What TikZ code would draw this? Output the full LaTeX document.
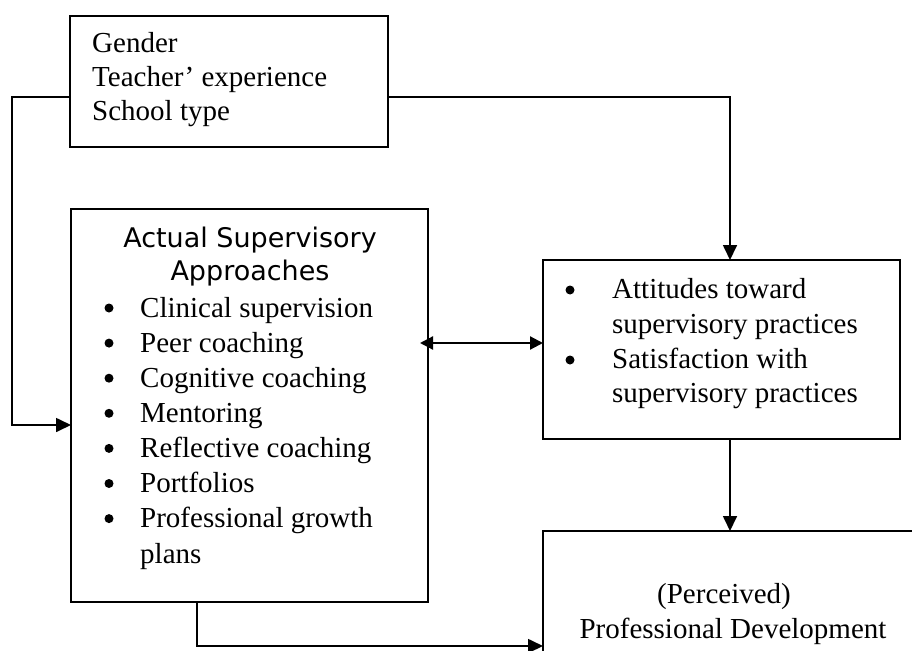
\documentclass[tikz,border=0pt]{standalone}
\usepackage{fontspec}
\setmainfont{Liberation Serif}
\newfontfamily\titlefont{DejaVu Sans}
\usetikzlibrary{arrows.meta,calc}
\begin{document}
\begin{tikzpicture}[x=1pt,y=-1pt,
  box/.style={draw,line width=1.7pt,rectangle,inner sep=0pt,outer sep=0pt},
  txt/.style={anchor=base west,inner sep=0pt,font=\fontsize{29}{35}\selectfont},
  ctxt/.style={anchor=base,inner sep=0pt,font=\fontsize{29}{35}\selectfont},
  ttl/.style={anchor=base,inner sep=0pt,font=\titlefont\fontsize{27}{33}\selectfont},
  bul/.style={circle,fill=black,inner sep=0pt,minimum size=9pt},
  arr/.style={line width=1.7pt,-{Triangle[length=15pt,width=14pt]}},
  darr/.style={line width=2.2pt,{Triangle[length=13pt,width=13pt]}-{Triangle[length=13pt,width=13pt]}}]
\useasboundingbox (0,0) rectangle (912,650);
\fill[white] (0,0) rectangle (912,650);

% boxes
\node[box,minimum width=318pt,minimum height=131pt] (top) at (229,81.5) {};
\node[box,minimum width=357pt,minimum height=393pt] (main) at (249.5,405.5) {};
\node[box,minimum width=357pt,minimum height=179pt] (right) at (721.5,349.5) {};
\node[box,minimum width=387pt,minimum height=149pt] (bot) at (736.5,605.5) {};

% top box text
\node[txt] (g1) at (92,53) {Gender};
\node[txt] (g2) at (92,87) {Teacher’ experience};
\node[txt] (g3) at (92,121) {School type};

% main box
\node[ttl] (t1) at (250,247) {Actual Supervisory};
\node[ttl] (t2) at (250,280) {Approaches};
\foreach \t [count=\i] in {Clinical supervision,Peer coaching,Cognitive coaching,Mentoring,Reflective coaching,Portfolios,Professional growth}{
  \node[bul] (mb\i) at (109,{317+35.1*(\i-1)-9}) {};
  \node[txt] (mt\i) at (140,{317+35.1*(\i-1)}) {\t};
}
\node[txt] (mt8) at (140,563) {plans};

% right box
\node[bul] (rb1) at (570,290) {};
\node[txt] (rt1) at (612,298) {Attitudes toward};
\node[txt] (rt2) at (612,333) {supervisory practices};
\node[bul] (rb2) at (570,360) {};
\node[txt] (rt3) at (612,368) {Satisfaction with};
\node[txt] (rt4) at (612,402) {supervisory practices};

% bottom box
\node[ctxt] (p1) at (724,603) {(Perceived)};
\node[ctxt] (p2) at (733,638) {Professional Development};

% connectors
\coordinate (tl) at (12,97);
\coordinate (bl) at (12,425);
\coordinate (tr) at (730,97);
\coordinate (da) at (420,343);
\coordinate (bb) at (197,646);
\draw[arr] (top.west |- tl) -- (tl) -- (bl) -- (main.west |- bl);
\draw[arr] (top.east |- tr) -- (tr) -- (tr |- right.north);
\draw[darr] (da) -- (da -| right.west);
\draw[arr] (tr |- right.south) -- (tr |- bot.north);
\draw[arr] (bb |- main.south) -- (bb) -- (bb -| bot.west);
\end{tikzpicture}
\end{document}
